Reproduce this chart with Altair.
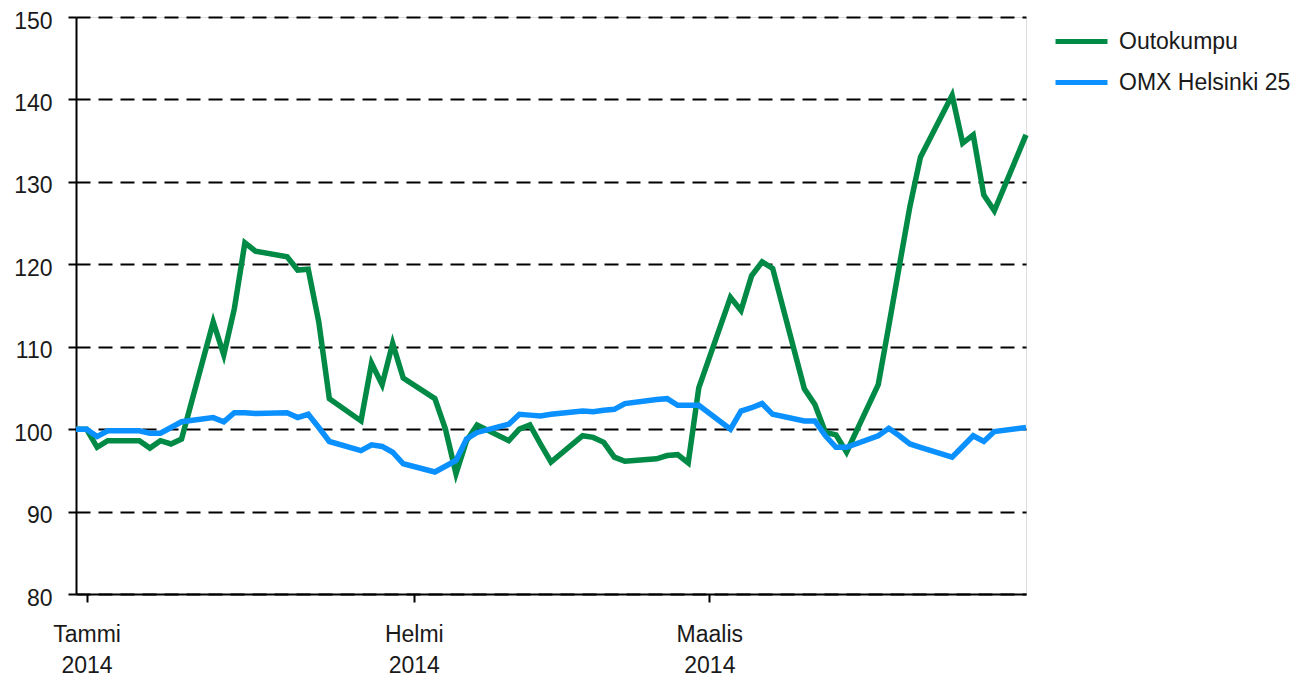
import altair as alt
import pandas as pd

dates = [
    "2013-12-31", "2014-01-01", "2014-01-02", "2014-01-03", "2014-01-06", "2014-01-07",
    "2014-01-08", "2014-01-09", "2014-01-10", "2014-01-13", "2014-01-14", "2014-01-15",
    "2014-01-16", "2014-01-17", "2014-01-20", "2014-01-21", "2014-01-22", "2014-01-23",
    "2014-01-24", "2014-01-27", "2014-01-28", "2014-01-29", "2014-01-30", "2014-01-31",
    "2014-02-03", "2014-02-04", "2014-02-05", "2014-02-06", "2014-02-07", "2014-02-10",
    "2014-02-11", "2014-02-12", "2014-02-13", "2014-02-14", "2014-02-17", "2014-02-18",
    "2014-02-19", "2014-02-20", "2014-02-21", "2014-02-24", "2014-02-25", "2014-02-26",
    "2014-02-27", "2014-02-28", "2014-03-03", "2014-03-04", "2014-03-05", "2014-03-06",
    "2014-03-07", "2014-03-10", "2014-03-11", "2014-03-12", "2014-03-13", "2014-03-14",
    "2014-03-17", "2014-03-18", "2014-03-19", "2014-03-20", "2014-03-21", "2014-03-24",
    "2014-03-25", "2014-03-26", "2014-03-27", "2014-03-28", "2014-03-31",
]

outokumpu = [
    100.0, 100.0, 97.8, 98.6, 98.6, 97.7,
    98.6, 98.2, 98.8, 113.0, 109.0, 114.6,
    122.6, 121.6, 120.9, 119.3, 119.4, 113.0,
    103.7, 101.0, 108.0, 105.4, 110.4, 106.2,
    103.7, 100.0, 94.6, 98.6, 100.5, 98.6,
    100.0, 100.5, 98.2, 96.0, 99.2, 99.0,
    98.4, 96.6, 96.1, 96.4, 96.8, 96.9,
    95.9, 105.0, 116.0, 114.4, 118.6, 120.3,
    119.5, 104.9, 103.0, 99.6, 99.3, 97.2,
    105.4, 112.5, 119.8, 127.0, 133.0, 140.5,
    134.7, 135.7, 128.4, 126.5, 135.7,
]

omx_helsinki_25 = [
    100.0, 100.0, 99.1, 99.8, 99.8, 99.5,
    99.5, 100.2, 100.9, 101.4, 100.9, 102.0,
    102.0, 101.9, 102.0, 101.4, 101.8, 100.2,
    98.5, 97.4, 98.1, 97.9, 97.2, 95.8,
    94.8, 95.5, 96.2, 98.8, 99.6, 100.6,
    101.8, 101.7, 101.6, 101.8, 102.2, 102.1,
    102.3, 102.4, 103.1, 103.6, 103.7, 102.9,
    102.9, 102.9, 100.0, 102.2, 102.6, 103.1,
    101.8, 101.0, 101.0, 99.2, 97.8, 97.8,
    99.2, 100.1, 99.2, 98.2, 97.8, 96.6,
    97.9, 99.2, 98.5, 99.7, 100.2,
]

series_names = ["Outokumpu", "OMX Helsinki 25"]
series_colors = ["#008a45", "#0a90ff"]
month_names = ["Tammi", "Helmi", "Maalis", "Huhti", "Touko", "Kesä",
               "Heinä", "Elo", "Syys", "Loka", "Marras", "Joulu"]
y_ticks = [80, 90, 100, 110, 120, 130, 140, 150]

rows = []
for d, a, b in zip(dates, outokumpu, omx_helsinki_25):
    rows.append({"date": d + "T00:00:00", "series": series_names[0], "value": a})
    rows.append({"date": d + "T00:00:00", "series": series_names[1], "value": b})
df = pd.DataFrame(rows)

FONT = "Liberation Sans"
month_js = "[" + ",".join("'" + m + "'" for m in month_names) + "]"

x_enc = alt.X(
    "date:T",
    scale=alt.Scale(
        domain=[alt.DateTime(year=2013, month=12, date=31),
                alt.DateTime(year=2014, month=3, date=31)],
        nice=False,
    ),
    axis=alt.Axis(
        values=[alt.DateTime(year=2014, month=1, date=1),
                alt.DateTime(year=2014, month=2, date=1),
                alt.DateTime(year=2014, month=3, date=1)],
        labelExpr="[" + month_js + "[month(datum.value)], timeFormat(datum.value, '%Y')]",
        title=None,
        grid=False,
        domainColor="black",
        domainWidth=2,
        tickColor="black",
        tickWidth=2,
        tickSize=8,
        labelPadding=21,
        labelBaseline="top",
        labelLineHeight=31,
        labelFont=FONT,
        labelFontSize=23,
        labelColor="#1a1a1a",
        labelAlign="center",
    ),
)

y_enc = alt.Y(
    "value:Q",
    scale=alt.Scale(domain=[80, 150], nice=False, zero=False),
    axis=alt.Axis(
        values=y_ticks,
        title=None,
        grid=True,
        gridColor="black",
        gridWidth=2,
        gridDash=[14, 8],
        domainColor="black",
        domainWidth=2,
        tickColor="black",
        tickWidth=2,
        tickSize=8,
        labelPadding=16,
        labelOffset=4,
        labelFont=FONT,
        labelFontSize=23,
        labelColor="#1a1a1a",
    ),
)

color_enc = alt.Color(
    "series:N",
    scale=alt.Scale(domain=series_names, range=series_colors),
    legend=alt.Legend(
        title=None,
        orient="none",
        legendX=977,
        legendY=-4,
        symbolType="stroke",
        symbolSize=2700,
        symbolStrokeWidth=5,
        labelFont=FONT,
        labelFontSize=23,
        labelColor="#1a1a1a",
        labelLimit=0,
        rowPadding=-2,
        labelOffset=9,
    ),
)

base = alt.Chart(df).encode(x=x_enc, y=y_enc, color=color_enc)

green = base.transform_filter(alt.datum.series == series_names[0]).mark_line(strokeWidth=5.5)
blue = base.transform_filter(alt.datum.series == series_names[1]).mark_line(strokeWidth=5.5)

chart = (
    alt.layer(green, blue)
    .properties(
        width=950,
        height=577,
        autosize=alt.AutoSizeParams(type="none"),
        padding={"left": 68, "top": 9, "right": 277, "bottom": 82},
    )
    .configure_view(stroke=None)
    .configure(background="white")
)

chart.save("out.html", embed_options={"renderer": "svg", "actions": False})
